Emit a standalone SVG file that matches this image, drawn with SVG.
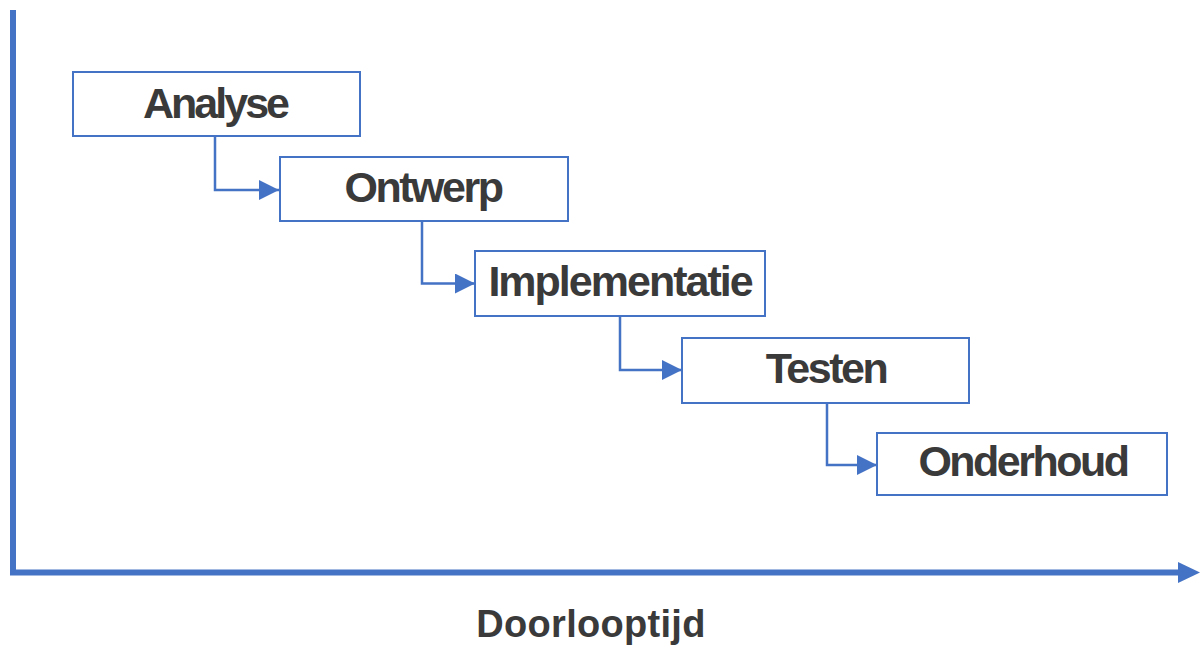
<svg xmlns="http://www.w3.org/2000/svg" width="1200" height="648" viewBox="0 0 1200 648">
  <style>
    .box { fill: #ffffff; stroke: #4472C4; stroke-width: 2; }
    .lbl { font-family: "Liberation Sans", Arial, sans-serif; font-weight: bold; font-size: 43px; fill: #3a3a3a; text-anchor: middle; letter-spacing: -2.5px; }
    .axis-lbl { font-family: "Liberation Sans", Arial, sans-serif; font-weight: bold; font-size: 38px; fill: #3a3a3a; text-anchor: middle; }
    .conn { fill: none; stroke: #4472C4; stroke-width: 2.5; }
    .axis { fill: none; stroke: #4472C4; stroke-width: 6; }
  </style>
  <defs>
    <marker id="arr" markerUnits="userSpaceOnUse" markerWidth="22" markerHeight="22" refX="20" refY="10" orient="auto">
      <path d="M0,0 L20,10 L0,20 Z" fill="#4472C4"/>
    </marker>
  </defs>
  <rect width="1200" height="648" fill="#ffffff"/>

  <g id="axes">
    <path class="axis" d="M13,10 L13,572.5 L1180,572.5"/>
    <path d="M1178,562 L1200,572.5 L1178,583 Z" fill="#4472C4"/>
  </g>

  <g id="connectors">
    <path class="conn" d="M215,136 L215,190 L279,190" marker-end="url(#arr)"/>
    <path class="conn" d="M422,221 L422,283.5 L475,283.5" marker-end="url(#arr)"/>
    <path class="conn" d="M620,316 L620,370 L682,370" marker-end="url(#arr)"/>
    <path class="conn" d="M827,403 L827,465 L877,465" marker-end="url(#arr)"/>
  </g>

  <g id="analyse">
    <rect class="box" x="73" y="72" width="287" height="64"/>
    <text class="lbl" x="215" y="118" style="letter-spacing:-3px">Analyse</text>
  </g>
  <g id="ontwerp">
    <rect class="box" x="280" y="157" width="288" height="64"/>
    <text class="lbl" x="423" y="202">Ontwerp</text>
  </g>
  <g id="implementatie">
    <rect class="box" x="475" y="251" width="290" height="65"/>
    <text class="lbl" x="620" y="296" style="letter-spacing:-2px">Implementatie</text>
  </g>
  <g id="testen">
    <rect class="box" x="682" y="338" width="287" height="65"/>
    <text class="lbl" x="826" y="383">Testen</text>
  </g>
  <g id="onderhoud">
    <rect class="box" x="877" y="433" width="290" height="62"/>
    <text class="lbl" x="1023" y="476">Onderhoud</text>
  </g>

  <text class="axis-lbl" x="591" y="637" style="letter-spacing:0.3px">Doorlooptijd</text>
</svg>
